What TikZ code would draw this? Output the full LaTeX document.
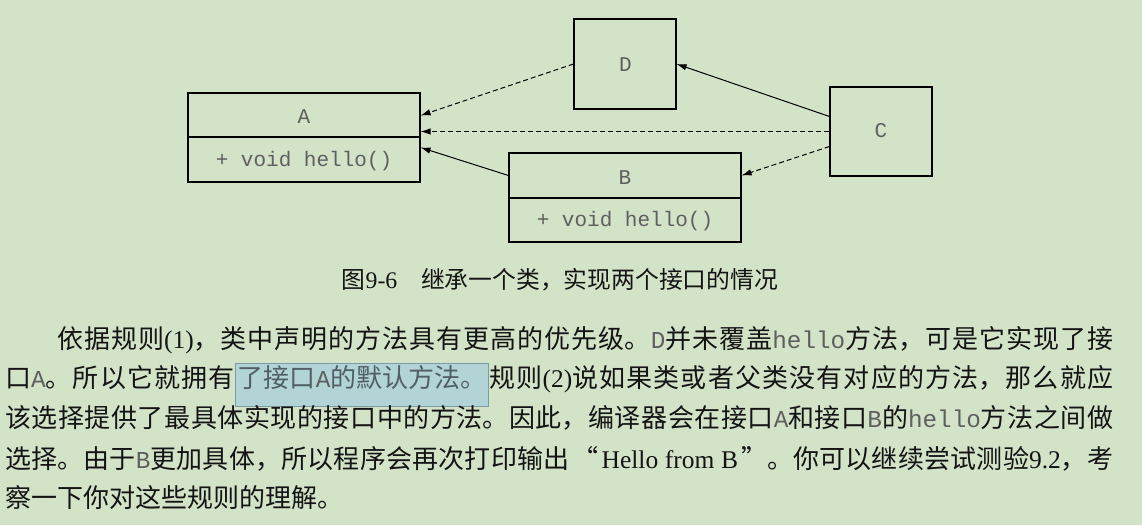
\documentclass[tikz,border=0pt]{standalone}
\usepackage{fontspec}
\setmainfont{Liberation Serif}
\newfontfamily\cjkf{Noto Sans CJK SC}
\newfontfamily\monof{Liberation Mono}
\usetikzlibrary{arrows.meta}
\definecolor{bg}{RGB}{211,227,200}
\definecolor{hlfill}{RGB}{178,212,214}
\definecolor{hlborder}{RGB}{125,155,165}
\definecolor{hltext}{RGB}{80,95,100}
\definecolor{monogray}{RGB}{95,95,95}
\definecolor{bodytext}{RGB}{20,20,20}
\XeTeXlinebreaklocale "zh"
\XeTeXlinebreakskip=0pt plus 3pt minus 0.6pt
\tolerance=9999
\newcommand\mt[1]{{\monof\fontsize{24.3}{30}\selectfont\color{monogray}#1}}
\newcommand\lt[1]{{\rmfamily\fontsize{25.5}{30}\selectfont #1}}
\newcommand\hlt[1]{{\setlength\fboxsep{2pt}\setlength\fboxrule{1pt}\fcolorbox{hlborder}{hlfill}{\rule[-16pt]{0pt}{34pt}\color{hltext}#1}}}
\tikzset{
  umlbox/.style={draw=black, line width=1.1pt, inner sep=0pt},
  umltext/.style={font=\monof\fontsize{21}{25}\selectfont, text=monogray, inner sep=0pt},
  dep/.style={draw=black, line width=1pt, dash pattern=on 5pt off 3pt, -{Latex[length=10pt,width=6.5pt]}},
  inh/.style={draw=black, line width=1pt, -{Latex[length=10pt,width=6.5pt]}},
  bodyline/.style={anchor=base west, inner sep=0pt, text width=1108pt, align=justify,
    font=\cjkf\fontsize{26}{30}\selectfont, text=bodytext},
}
\begin{document}
\begin{tikzpicture}[x=1pt,y=-1pt]
\fill[bg] (0,0) rectangle (1142,525);
\useasboundingbox (0,0) rectangle (1142,525);

% class boxes
\node[umlbox, minimum width=232pt, minimum height=89pt] (A) at (304,137.5) {};
\draw[line width=1.1pt] (A.west |- 0,137) -- (A.east |- 0,137);
\node[umltext] (Aname) at (304,116.5) {A};
\node[umltext] (Ameth) at (304,161) {+ void hello()};

\node[umlbox, minimum width=232pt, minimum height=89pt] (B) at (625,197.5) {};
\draw[line width=1.1pt] (B.west |- 0,198) -- (B.east |- 0,198);
\node[umltext] (Bname) at (625,177.5) {B};
\node[umltext] (Bmeth) at (625,221) {+ void hello()};

\node[umlbox, minimum width=102pt, minimum height=90pt] (D) at (625,64) {};
\node[umltext] (Dname) at (625.5,64.3) {D};

\node[umlbox, minimum width=102pt, minimum height=89pt] (C) at (881,131.5) {};
\node[umltext] (Cname) at (881,131) {C};

% connectors
\draw[dep] (D.west) -- ([yshift=22pt]A.east);
\draw[dep] (C.west) -- (C.west -| A.east);
\draw[inh] ([yshift=22pt]B.west) -- ([yshift=-10pt]A.east);
\draw[inh] ([yshift=15pt]C.west) -- (D.east);
\draw[dep] ([yshift=-15pt]C.west) -- ([yshift=22pt]B.east);

% caption
\node[anchor=base, inner sep=0pt, text=bodytext, font=\cjkf\fontsize{23.8}{28}\selectfont] (cap) at (560,288)
  {图\textrm{9-6}\hspace{1em}继承一个类，实现两个接口的情况};

% body text
\node[bodyline] (l1) at (5,348) {\parfillskip=0pt \hspace*{2em}依据规则\lt{(1)}，类中声明的方法具有更高的优先级。\mt{D}并未覆盖\mt{hello}方法，可是它实现了接\par};
\node[bodyline] (l2) at (5,387.5) {\parfillskip=0pt 口\mt{A}。所以它就拥有\hlt{了接口\mt{A}的默认方法。}规则\lt{(2)}说如果类或者父类没有对应的方法，那么就应\par};
\node[bodyline] (l3) at (5,427.5) {\parfillskip=0pt 该选择提供了最具体实现的接口中的方法。因此，编译器会在接口\mt{A}和接口\mt{B}的\mt{hello}方法之间做\par};
\node[bodyline] (l4) at (5,468) {\parfillskip=0pt 选择。由于\mt{B}更加具体，所以程序会再次打印输出\hspace{3pt}“\hspace{3pt}\lt{Hello from B}\hspace{3pt}”。你可以继续尝试测验\lt{9.2}，考\par};
\node[bodyline] (l5) at (5,507) {察一下你对这些规则的理解。};
\end{tikzpicture}
\end{document}
